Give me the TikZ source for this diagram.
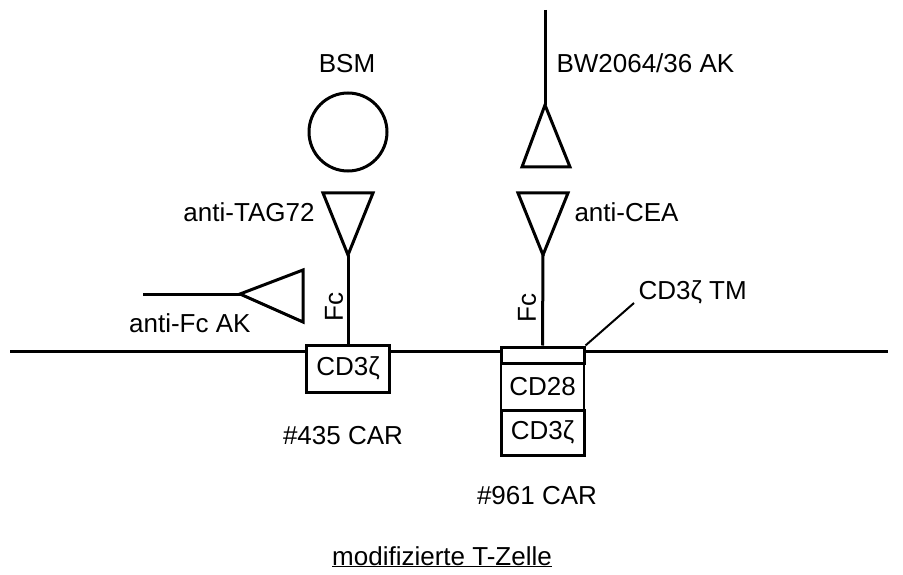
\documentclass[tikz,border=0pt]{standalone}
\usepackage{fontspec}
\setmainfont{Liberation Sans}
\begin{document}
\begin{tikzpicture}[x=1pt,y=-1pt,line width=3pt,
  font=\fontsize{26}{31}\selectfont,
  box/.style={draw,fill=white,minimum width=83pt,inner sep=0pt},
  lbl/.style={inner sep=0pt},
  thin/.style={line width=1.5pt}]
\useasboundingbox (0,0) rectangle (903,575);
% membrane
\coordinate (memL) at (10,351);
\coordinate (memR) at (888,351);
\draw (memL) -- (memR);
% left CAR
\node[box,minimum height=47pt] (cdl) at (348,368.5) {CD3ζ};
\coordinate (tagApex) at (348,255);
\coordinate (tagL) at (323,193);
\coordinate (tagR) at (373,193);
\draw (tagApex) -- (tagL) -- (tagR) -- cycle;
\draw (tagApex) -- (cdl.north);
\node[draw,circle,minimum size=78pt,inner sep=0pt] (bsm) at (348,132) {};
\node[lbl,anchor=base] (bsmt) at (347,73) {BSM};
\node[lbl,anchor=base east] (tagt) at (316,222) {anti-TAG72};
\node[lbl,rotate=90] (fcl) at (334,307) {Fc};
% anti-Fc AK
\coordinate (fcApex) at (240,294);
\coordinate (fcT) at (303,270);
\coordinate (fcB) at (303,322);
\coordinate (fcEnd) at (143,294);
\draw (fcApex) -- (fcT) -- (fcB) -- cycle;
\draw (fcEnd) -- (fcApex);
\node[lbl,anchor=base east] (fct) at (252,332) {anti-Fc AK};
\node[lbl,anchor=base] (c435) at (343,444) {\#435 CAR};
% right CAR
\node[box,thin,minimum height=47pt] (cd28) at (542.5,386.5) {CD28};
\node[box,minimum height=16pt] (tm) at (542.5,355) {};
\node[box,minimum height=45pt] (cdr) at (542.5,432.5) {CD3ζ};
\coordinate (ceaApex) at (543,255);
\coordinate (ceaL) at (518,193);
\coordinate (ceaR) at (568,193);
\draw (ceaApex) -- (ceaL) -- (ceaR) -- cycle;
\draw (ceaApex) -- (tm.north);
\node[lbl,anchor=base west] (ceat) at (573,222) {anti-CEA};
\node[lbl,rotate=90] (fcr) at (527,308) {Fc};
\coordinate (bwApex) at (545,105);
\coordinate (bwL) at (522,167);
\coordinate (bwR) at (570,167);
\coordinate (bwTop) at (545,10);
\draw (bwApex) -- (bwL) -- (bwR) -- cycle;
\draw (bwTop) -- (bwApex);
\node[lbl,anchor=base west] (bwt) at (555,73) {BW2064/36 AK};
\node[lbl,anchor=base west] (tmt) at (637,299) {CD3ζ TM};
\coordinate (tmLead) at (634,303);
\draw[line width=2pt] (tm.north east) -- (tmLead);
\node[lbl,anchor=base] (c961) at (537,504) {\#961 CAR};
\node[lbl,anchor=base] (tz) at (442,565) {\underline{modifizierte T-Zelle}};
\end{tikzpicture}
\end{document}
